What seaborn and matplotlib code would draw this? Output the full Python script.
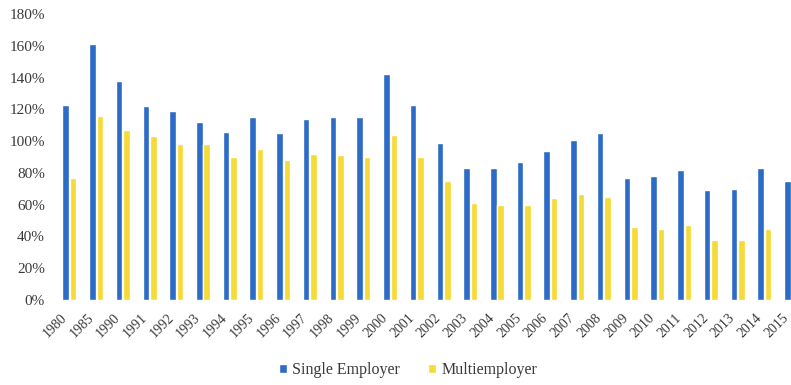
import numpy as np
import pandas as pd
import seaborn as sns
import matplotlib.pyplot as plt
from matplotlib.ticker import PercentFormatter

# Funded ratio of pension plans by year (percent)
years = ["1980", "1985", "1990", "1991", "1992", "1993", "1994", "1995", "1996",
         "1997", "1998", "1999", "2000", "2001", "2002", "2003", "2004", "2005",
         "2006", "2007", "2008", "2009", "2010", "2011", "2012", "2013", "2014",
         "2015"]
single_employer = [123, 161, 138, 122, 119, 112, 106, 115, 105, 114, 115, 115,
                   142, 123, 99, 83, 83, 87, 94, 101, 105, 77, 78, 82, 69, 70,
                   83, 75]
multiemployer = [77, 116, 107, 103, 98, 98, 90, 95, 88, 92, 91, 90, 104, 90,
                 75, 61, 60, 60, 64, 67, 65, 46, 45, 47, 38, 38, 45, np.nan]
series_names = ["Single Employer", "Multiemployer"]
yticks = list(range(0, 181, 20))

BLUE = "#2D6CC6"
YELLOW = "#F6DA35"
TEXT = "#3a3a3a"

sns.set_theme(style="white")
plt.rcParams["font.family"] = ["Liberation Serif", "DejaVu Serif"]

df = pd.DataFrame({
    "Year": years * 2,
    "Plan": [series_names[0]] * len(years) + [series_names[1]] * len(years),
    "Funded": single_employer + multiemployer,
})

fig = plt.figure(figsize=(7.91, 3.85), dpi=100)
ax = fig.add_axes([56 / 791, 85 / 385, 735 / 791, 286 / 385])

sns.barplot(data=df, x="Year", y="Funded", hue="Plan",
            palette=[BLUE, YELLOW], saturation=1, width=0.56, gap=0.12,
            ax=ax)

ax.set_xlim(-0.5, 27)
ax.set_ylim(0, 180)
ax.set_yticks(yticks)
ax.yaxis.set_major_formatter(PercentFormatter(decimals=0))
ax.set_xlabel("")
ax.set_ylabel("")
sns.despine(ax=ax, left=True, bottom=True)

ax.tick_params(axis="y", length=0, pad=8, labelsize=11, labelcolor=TEXT)
ax.tick_params(axis="x", length=0, pad=8, labelsize=10, labelcolor=TEXT)
for lbl in ax.get_xticklabels():
    lbl.set_rotation(45)
    lbl.set_ha("right")

handles, labels = ax.get_legend_handles_labels()
ax.legend(handles, labels, loc="center",
          bbox_to_anchor=(408 / 791, 15 / 385), bbox_transform=fig.transFigure,
          ncol=2, frameon=False, fontsize=11.5, handlelength=0.5,
          handleheight=0.5, handletextpad=0.3, columnspacing=1.8,
          labelcolor=TEXT)

fig.savefig("out.png", dpi=100)
